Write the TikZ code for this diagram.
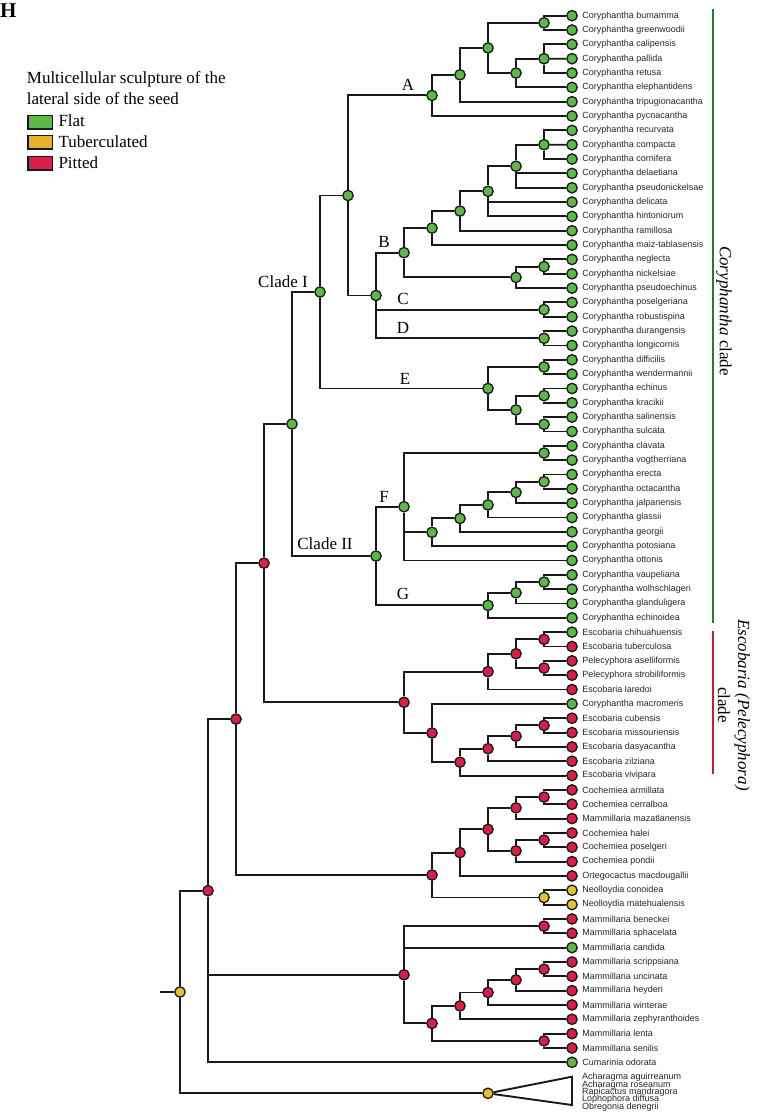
\documentclass[tikz,border=0pt]{standalone}
\usepackage{fontspec}
\setmainfont{Liberation Serif}
\newfontfamily\taxfont{Liberation Sans}

\definecolor{flatc}{HTML}{5CB947}
\definecolor{tubc}{HTML}{E3C22C}
\definecolor{tubkey}{HTML}{E6B02E}
\definecolor{pitc}{HTML}{D91E4A}
\definecolor{corybar}{HTML}{217A3E}
\definecolor{escobar}{HTML}{BC2230}

\tikzset{
  branch/.style={line width=1.9pt, black!90},
  sdot/.style={circle, draw=black!90, line width=1.3pt, minimum size=10.4pt, inner sep=0pt},
  taxon/.style={anchor=west, inner sep=0pt, text=black!85, font=\taxfont\fontsize{9}{9}\selectfont},
  cladelbl/.style={inner sep=0pt, font=\fontsize{17}{20}\selectfont},
  keybox/.style={draw=black!90, line width=1.2pt, minimum width=24.4pt, minimum height=13.5pt, inner sep=0pt, anchor=north west},
  keytext/.style={anchor=base west, inner sep=0pt, font=\fontsize{17}{20}\selectfont},
}

\begin{document}
\begin{tikzpicture}[x=1pt, y=-1pt]
        \useasboundingbox (0,0) rectangle (756,1113);

        % panel letter and key
        \node[anchor=base west, inner sep=0pt, font=\bfseries\fontsize{21}{21}\selectfont] (panel) at (0,17.5) {H};
        \node[keytext] (keyhead1) at (26.7,83.3) {Multicellular sculpture of the};
        \node[keytext] (keyhead2) at (26.7,104.3) {lateral side of the seed};
        \node[keybox, fill=flatc] (keyflat) at (27.3,114.9) {};
        \node[keybox, fill=tubkey] (keytub) at (27.3,134.9) {};
        \node[keybox, fill=pitc] (keypit) at (27.3,155.9) {};
        \node[keytext] (keyflatlbl) at (58.3,126.7) {Flat};
        \node[keytext] (keytublbl) at (58.3,147.7) {Tuberculated};
        \node[keytext] (keypitlbl) at (58.3,168.3) {Pitted};

        % tips
        \foreach \tname/\tcol [count=\i] in {Coryphantha bumamma/flatc, Coryphantha greenwoodii/flatc,
            Coryphantha calipensis/flatc, Coryphantha pallida/flatc, Coryphantha retusa/flatc,
            Coryphantha elephantidens/flatc, Coryphantha tripugionacantha/flatc, Coryphantha pycnacantha/flatc,
            Coryphantha recurvata/flatc, Coryphantha compacta/flatc, Coryphantha cornifera/flatc,
            Coryphantha delaetiana/flatc, Coryphantha pseudonickelsae/flatc, Coryphantha delicata/flatc,
            Coryphantha hintoniorum/flatc, Coryphantha ramillosa/flatc, Coryphantha maiz-tablasensis/flatc,
            Coryphantha neglecta/flatc, Coryphantha nickelsiae/flatc, Coryphantha pseudoechinus/flatc,
            Coryphantha poselgeriana/flatc, Coryphantha robustispina/flatc, Coryphantha durangensis/flatc,
            Coryphantha longicornis/flatc, Coryphantha difficilis/flatc, Coryphantha wendermannii/flatc,
            Coryphantha echinus/flatc, Coryphantha kracikii/flatc, Coryphantha salinensis/flatc,
            Coryphantha sulcata/flatc, Coryphantha clavata/flatc, Coryphantha vogtherriana/flatc,
            Coryphantha erecta/flatc, Coryphantha octacantha/flatc, Coryphantha jalpanensis/flatc,
            Coryphantha glassii/flatc, Coryphantha georgii/flatc, Coryphantha potosiana/flatc,
            Coryphantha ottonis/flatc, Coryphantha vaupeliana/flatc, Coryphantha wolhschlageri/flatc,
            Coryphantha glanduligera/flatc, Coryphantha echinoidea/flatc, Escobaria chihuahuensis/flatc,
            Escobaria tuberculosa/pitc, Pelecyphora aselliformis/pitc, Pelecyphora strobiliformis/pitc,
            Escobaria laredoi/pitc, Coryphantha macromeris/flatc, Escobaria cubensis/pitc,
            Escobaria missouriensis/pitc, Escobaria dasyacantha/pitc, Escobaria zilziana/pitc,
            Escobaria vivipara/pitc, Cochemiea armillata/pitc, Cochemiea cerralboa/pitc,
            Mammillaria mazatlanensis/pitc, Cochemiea halei/pitc, Cochemiea poselgeri/pitc,
            Cochemiea pondii/pitc, Ortegocactus macdougallii/pitc, Neolloydia conoidea/tubc,
            Neolloydia matehualensis/tubc, Mammillaria beneckei/pitc, Mammillaria sphacelata/pitc,
            Mammillaria candida/flatc, Mammillaria scrippsiana/pitc, Mammillaria uncinata/pitc,
            Mammillaria heyderi/pitc, Mammillaria winterae/pitc, Mammillaria zephyranthoides/pitc,
            Mammillaria lenta/pitc, Mammillaria senilis/pitc, Cumarinia odorata/flatc}
        {
            \node[sdot, fill=\tcol] (t\i) at (572, {15.7+(\i-1)*14.337}) {};
            \node[taxon] (lab\i) at ([xshift=4.3pt]t\i.east) {\tname};
        }

        % internal nodes
        \foreach \nd/\nx/\ny/\nc in {a1/544/22.85/flatc, a2/544/58.7/flatc, a3/516/73.05/flatc,
            a4/488/47.95/flatc, a5/460/74.8/flatc, nA/432/95.45/flatc,
            b1/544/144.7/flatc, b2/516/166.2/flatc, b3/488/191.3/flatc, b4/460/211.05/flatc,
            b5/432/228.1/flatc, b6/544/266.6/flatc, b7/516/277.35/flatc, nB/404/252.7/flatc,
            nC/544/309.6/flatc, nD/544/338.3/flatc, nBCD/376/295.5/flatc, nABCD/348/195.5/flatc,
            e1/544/366.95/flatc, e2/544/395.65/flatc, e3/544/424.3/flatc, e4/516/409.95/flatc,
            nE/488/388.45/flatc, cladeI/320/292/flatc,
            f1/544/453/flatc, f2/544/481.65/flatc, f3/516/492.4/flatc, f4/488/504.95/flatc,
            f5/460/518.4/flatc, f6/432/532.3/flatc, nF/404/506.75/flatc,
            g1/544/582.05/flatc, g2/516/592.8/flatc, nG/488/605.35/flatc,
            cladeII/376/556.05/flatc, cory/292/424/flatc,
            s1/544/639.35/pitc, s2/544/668.05/pitc, s3/516/653.7/pitc, s4/488/671.65/pitc,
            s5/544/725.4/pitc, s6/516/736.15/pitc, s7/488/748.7/pitc, s8/460/762.15/pitc,
            s9/432/733/pitc, esco/404/702.3/pitc, coresc/264/563.15/pitc,
            k1/544/797.1/pitc, k2/516/807.85/pitc, k3/544/840.1/pitc, k4/516/850.85/pitc,
            k5/488/829.35/pitc, k6/460/852.6/pitc, neo/544/897.45/tubc, coch/432/875/pitc,
            n1/236/719.1/pitc,
            m1/544/926.15/pitc, m2/544/969.15/pitc, m3/516/979.9/pitc, m4/488/992.45/pitc,
            m5/460/1005.9/pitc, m6/544/1040.85/pitc, m7/432/1023.4/pitc, mam/404/974.8/pitc,
            n2/208/890.7/pitc, og/488/1093.3/tubc, root/180/992/tubc}
            \node[sdot, fill=\nc] (\nd) at (\nx,\ny) {};

        \coordinate (stub) at (160,992);
        \coordinate (ogtop) at (572,1076.7);
        \coordinate (ogbot) at (572,1105);

        % branches
        \foreach \p/\c in {a1/t1, a1/t2, a2/t3, a2/t5, a3/a2, a3/t6, a4/a1, a4/a3, a5/a4, a5/t7,
            nA/a5, nA/t8, b1/t9, b1/t11, b2/b1, b2/t12, b2/t13, b3/b2, b3/t14, b3/t15, b4/b3, b4/t16,
            b5/b4, b5/t17, b6/t18, b6/t19, b7/b6, b7/t20, nB/b5, nB/b7, nC/t21, nC/t22, nD/t23, nD/t24,
            nBCD/nB, nBCD/nC, nBCD/nD, nABCD/nA, nABCD/nBCD,
            e1/t25, e1/t26, e2/t27, e2/t28, e3/t29, e3/t30, e4/e2, e4/e3, nE/e1, nE/e4,
            cladeI/nABCD, cladeI/nE,
            f1/t31, f1/t32, f2/t33, f2/t34, f3/f2, f3/t35, f4/f3, f4/t36, f5/f4, f5/t37, f6/f5, f6/t38,
            nF/f1, nF/f6, nF/t39, g1/t40, g1/t41, g2/g1, g2/t42, nG/g2, nG/t43,
            cladeII/nF, cladeII/nG, cory/cladeI, cory/cladeII,
            s1/t44, s1/t45, s2/t46, s2/t47, s3/s1, s3/s2, s4/s3, s4/t48, s5/t50, s5/t51, s6/s5, s6/t52,
            s7/s6, s7/t53, s8/s7, s8/t54, s9/t49, s9/s8, esco/s4, esco/s9, coresc/cory, coresc/esco,
            k1/t55, k1/t56, k2/k1, k2/t57, k3/t58, k3/t59, k4/k3, k4/t60, k5/k2, k5/k4, k6/k5, k6/t61,
            neo/t62, neo/t63, coch/k6, coch/neo, n1/coresc, n1/coch,
            m1/t64, m1/t65, m2/t67, m2/t68, m3/m2, m3/t69, m4/m3, m4/t70, m5/m4, m5/t71, m6/t72, m6/t73,
            m7/m5, m7/m6, mam/m1, mam/t66, mam/m7, n2/n1, n2/mam, n2/t74, root/n2, root/og}
            \draw[branch] (\p) |- (\c);
        \draw[branch] (a2) -- (t4);
        \draw[branch] (b1) -- (t10);
        \draw[branch] (stub) -- (root);
        \draw[branch] (og) -- (ogtop) -- (ogbot) -- (og);

        % collapsed outgroup
        \foreach \tname [count=\j] in {Acharagma aguirreanum, Acharagma roseanum, Rapicactus mandragora,
            Lophophora diffusa, Obregonia denegrii}
            \node[taxon] (ogt\j) at (582, {1077.3+(\j-1)*7.4}) {\tname};

        % clade labels
        \node[cladelbl] (labA) at (408,85) {A};
        \node[cladelbl] (labB) at (384,241.7) {B};
        \node[cladelbl] (labC) at (403,299) {C};
        \node[cladelbl] (labD) at (403,327.7) {D};
        \node[cladelbl] (labE) at (405,379) {E};
        \node[cladelbl] (labF) at (384,496.7) {F};
        \node[cladelbl] (labG) at (403,594) {G};
        \node[cladelbl] (labI) at (283,282) {Clade I};
        \node[cladelbl] (labII) at (325,544) {Clade II};

        % clade bars
        \draw[line width=2pt, corybar] (712.7,9.3) -- (712.7,622.7);
        \draw[line width=2pt, escobar] (713,630.7) -- (713,774.3);
        \node[cladelbl, rotate=-90] (corylbl) at (724,311) {\textit{Coryphantha} clade};
        \node[cladelbl, rotate=-90, align=center] (escolbl) at (734,705) {\textit{Escobaria (Pelecyphora)}\\clade};
\end{tikzpicture}
\end{document}
